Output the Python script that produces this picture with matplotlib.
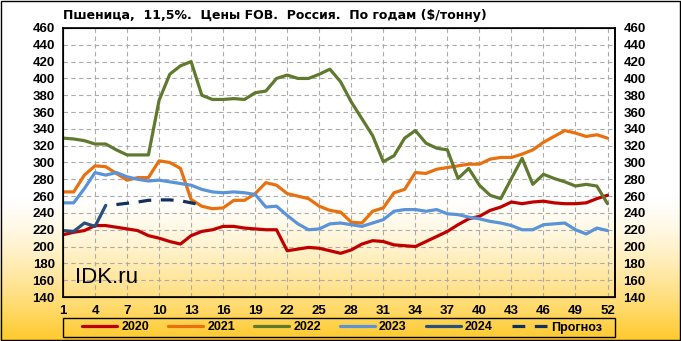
import numpy as np
import matplotlib
matplotlib.use("Agg")
import matplotlib.pyplot as plt
from matplotlib.colors import to_rgb
from matplotlib.font_manager import FontProperties

# weekly FOB prices, $/t
weeks = list(range(1, 53))

y2020 = [214, 217, 219, 225, 225, 223, 221, 219, 213, 210, 206, 203, 213, 218, 220, 224, 224, 222,
         221, 220, 220, 195, 197, 199, 198, 195, 192, 196, 203, 207, 206, 202, 201, 200, 206, 212,
         218, 226, 233, 236, 243, 247, 253, 251, 253, 254, 252, 251, 251, 252, 257, 261]

y2021 = [265, 265, 285, 296, 295, 287, 279, 282, 282, 302, 300, 293, 256, 248, 245, 246, 255, 255,
         263, 276, 273, 263, 260, 257, 248, 243, 241, 229, 228, 242, 246, 264, 268, 288, 287, 292,
         294, 296, 298, 298, 304, 306, 306, 310, 315, 324, 331, 338, 335, 331, 333, 329]

y2022 = [329, 328, 326, 322, 322, 315, 309, 309, 309, 374, 405, 415, 420, 380, 375, 375, 376, 375,
         383, 385, 400, 404, 400, 400, 405, 411, 396, 372, 352, 332, 301, 308, 329, 338, 323, 317,
         315, 281, 293, 273, 261, 257, 281, 305, 274, 286, 281, 277, 272, 274, 272, 251]

y2023 = [252, 252, 269, 288, 285, 288, 283, 280, 278, 279, 277, 275, 273, 268, 265, 264, 265, 264,
         262, 247, 248, 237, 227, 220, 221, 227, 228, 226, 224, 228, 232, 242, 244, 244, 242, 244,
         239, 238, 235, 233, 230, 228, 225, 220, 220, 226, 227, 228, 220, 215, 222, 219]

weeks_2024 = [1, 2, 3, 4, 5]
y2024 = [219, 218, 228, 224, 249]

weeks_fc = [6, 7, 8, 9, 10, 11, 12, 13, 14]
y_fc = [250, 251.5, 253, 255, 255.5, 255.5, 254.5, 252, 249.5]

W, H = 681, 341
fig = plt.figure(figsize=(W / 100, H / 100), dpi=100)

# background gradient: white on top, gold towards the bottom
bg = fig.add_axes([0, 0, 1, 1], zorder=-10)
rows = np.arange(H)
t = np.clip((rows - 195) / (H - 195), 0, 1) ** 1.4
top = np.array(to_rgb("white"))
bot = np.array(to_rgb("#FFC929"))
grad = top[None, :] * (1 - t[:, None]) + bot[None, :] * t[:, None]
img = np.repeat(grad[:, None, :], 10, axis=1)
bg.imshow(img, aspect="auto", extent=[0, 1, 0, 1])
bg.add_patch(plt.Rectangle((0.001, 0.002), 0.997, 0.995, fill=False, ec="black", lw=1,
                           transform=bg.transAxes))
# legend frame
bg.add_patch(plt.Rectangle((63 / W, 1 - 337 / H), 552 / W, 19 / H, fill=False, ec="black",
                           lw=1, transform=bg.transAxes))
bg.axis("off")

ax = fig.add_axes([63 / W, 1 - 297 / H, (615 - 63) / W, (297 - 28) / H])
ax.patch.set_alpha(0)

ax.plot(weeks, y2020, color="#C00000", lw=2.3, label="2020", solid_capstyle="round")
ax.plot(weeks, y2021, color="#E8700F", lw=2.3, label="2021", solid_capstyle="round")
ax.plot(weeks, y2022, color="#5F7A2E", lw=2.3, label="2022", solid_capstyle="round")
ax.plot(weeks, y2023, color="#5A93D8", lw=2.3, label="2023", solid_capstyle="round")
ax.plot(weeks_2024, y2024, color="#27507F", lw=2.3, label="2024", solid_capstyle="round")
ax.plot(weeks_fc, y_fc, color="#10305E", lw=2.3, ls=(0, (4, 3)), label="Прогноз")

ax.set_xlim(1, 52.7)
ax.set_ylim(140, 460)
ax.set_xticks(range(1, 53, 3))
ax.set_yticks(range(140, 461, 20))
ax.grid(True, color="#ABABAB", ls=(0, (4, 3)), lw=0.8)
ax.tick_params(length=0, pad=6)
tick_font = dict(family="Liberation Sans", weight="bold", size=9.5)
for lab in ax.get_xticklabels() + ax.get_yticklabels():
    lab.set_fontproperties(FontProperties(**tick_font))
for s in ax.spines.values():
    s.set_linewidth(1.2)
    s.set_color("black")

ax2 = ax.twinx()
ax2.set_ylim(140, 460)
ax2.set_yticks(range(140, 461, 20))
ax2.tick_params(length=0, pad=6)
for lab in ax2.get_yticklabels():
    lab.set_fontproperties(FontProperties(**tick_font))
ax2.spines["right"].set_linewidth(1.2)

fig.text(63 / W, 1 - 15 / H, "Пшеница,  11,5%.  Цены FOB.  Россия.  По годам ($/тонну)",
         fontsize=9, fontweight="bold", family="DejaVu Sans", va="center", ha="left")
fig.text(75 / W, 1 - 283 / H, "IDK.ru", fontsize=16, family="Liberation Sans")

leg = fig.legend(loc="center", bbox_to_anchor=(342 / W, 1 - 327.5 / H),
                 ncol=6, frameon=False, handlelength=2.8, handletextpad=0.35,
                 columnspacing=1.5, prop=dict(family="Liberation Sans", weight="bold", size=9),
                 borderaxespad=0, borderpad=0)

fig.savefig("out.png", dpi=100)
